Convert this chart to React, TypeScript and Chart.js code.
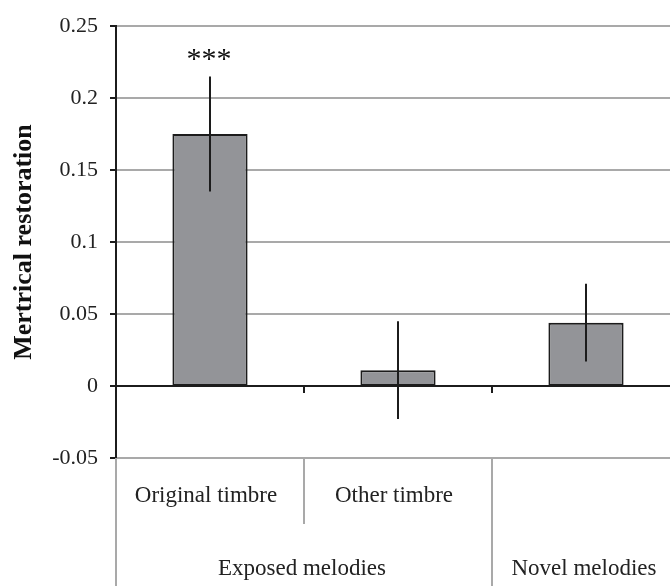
import React, { useEffect, useRef } from 'react';
import { Chart, registerables } from 'chart.js';

Chart.register(...registerables);

// ---- data ----
const categories = ['Original timbre', 'Other timbre', 'Novel melodies'];
const subLabels = ['Original timbre', 'Other timbre', ''];
const groupLabels = ['Exposed melodies', 'Novel melodies'];
const groupSpans = [2, 1];
const values = [0.175, 0.011, 0.044];
const errors = [0.040, 0.034, 0.027];
const significance = ['***', '', ''];
const yMin = -0.05;
const yMax = 0.25;
const yStep = 0.05;
const yTitle = 'Mertrical restoration';

const SERIF = '"Liberation Serif", "Times New Roman", serif';
const GRID_GRAY = '#a9a9a9';
const DARK = '#1c1c1c';

const overlay = {
  id: 'overlay',
  afterDatasetsDraw(chart: any) {
    const ctx = chart.ctx as CanvasRenderingContext2D;
    const xs = chart.scales.x;
    const ys = chart.scales.y;
    const area = chart.chartArea;
    const n = categories.length;
    const catW = (area.right - area.left) / n;
    const y0 = ys.getPixelForValue(0);

    ctx.save();
    // error bars
    ctx.strokeStyle = DARK;
    ctx.lineWidth = 2;
    values.forEach((v, i) => {
      const cx = Math.round(xs.getPixelForValue(i));
      ctx.beginPath();
      ctx.moveTo(cx, ys.getPixelForValue(v + errors[i]));
      ctx.lineTo(cx, ys.getPixelForValue(v - errors[i]));
      ctx.stroke();
    });

    // tick marks at category boundaries on the zero line
    for (let i = 1; i < n; i++) {
      const bx = Math.round(xs.getPixelForValue(i) - catW / 2);
      ctx.beginPath();
      ctx.moveTo(bx, y0);
      ctx.lineTo(bx, y0 + 7);
      ctx.stroke();
    }

    // significance markers
    ctx.fillStyle = '#111';
    ctx.font = `30px ${SERIF}`;
    ctx.textAlign = 'center';
    ctx.textBaseline = 'alphabetic';
    significance.forEach((s, i) => {
      if (!s) return;
      const cx = xs.getPixelForValue(i) - 1;
      const top = ys.getPixelForValue(values[i] + errors[i]);
      ctx.fillText(s, cx, top - 8);
    });

    // category table below the plot
    const bottom = area.bottom;
    ctx.strokeStyle = GRID_GRAY;
    ctx.lineWidth = 2;
    // left border
    ctx.beginPath();
    ctx.moveTo(area.left, bottom);
    ctx.lineTo(area.left, chart.height);
    ctx.stroke();
    // sub-category separators (short) and group separators (full)
    let idx = 0;
    groupSpans.forEach((span) => {
      const start = idx;
      const end = idx + span;
      for (let k = start + 1; k < end; k++) {
        const bx = Math.round(xs.getPixelForValue(k) - catW / 2);
        ctx.beginPath();
        ctx.moveTo(bx, bottom);
        ctx.lineTo(bx, bottom + 66);
        ctx.stroke();
      }
      if (end < n) {
        const bx = Math.round(xs.getPixelForValue(end) - catW / 2);
        ctx.beginPath();
        ctx.moveTo(bx, bottom);
        ctx.lineTo(bx, chart.height);
        ctx.stroke();
      }
      idx = end;
    });

    ctx.fillStyle = '#222';
    ctx.font = `23px ${SERIF}`;
    ctx.textAlign = 'center';
    subLabels.forEach((lab, i) => {
      if (!lab) return;
      ctx.fillText(lab, xs.getPixelForValue(i) - 4, bottom + 44);
    });
    idx = 0;
    groupLabels.forEach((lab, g) => {
      const span = groupSpans[g];
      const left = xs.getPixelForValue(idx) - catW / 2;
      const right = xs.getPixelForValue(idx + span - 1) + catW / 2;
      ctx.fillText(lab, (left + right) / 2 - 2, bottom + 117);
      idx += span;
    });
    ctx.restore();
  },
};

export default function App() {
  const ref = useRef<HTMLCanvasElement | null>(null);

  useEffect(() => {
    if (!ref.current) return;
    const chart = new Chart(ref.current, {
      type: 'bar',
      data: {
        labels: categories,
        datasets: [
          {
            data: values,
            backgroundColor: '#939498',
            borderColor: DARK,
            borderWidth: 2,
            borderSkipped: false,
            categoryPercentage: 1,
            barPercentage: 0.4,
          } as any,
        ],
      },
      options: {
        responsive: false,
        animation: false,
        devicePixelRatio: 1,
        layout: { padding: { top: 26, right: 10, bottom: 128, left: 0 } },
        plugins: {
          legend: { display: false },
          tooltip: { enabled: false },
        },
        scales: {
          x: { display: false },
          y: {
            min: yMin,
            max: yMax,
            afterFit: (s: any) => {
              s.width = 116;
            },
            ticks: {
              stepSize: yStep,
              padding: 12,
              color: '#222',
              font: { family: SERIF, size: 22 },
              callback: (v: any) => String(Number(Number(v).toFixed(2))),
            },
            grid: {
              color: (c: any) =>
                c.tick && Math.abs(c.tick.value) < 1e-9 ? DARK : GRID_GRAY,
              lineWidth: 2,
              tickLength: 6,
              tickColor: DARK,
              tickWidth: 2,
            },
            border: { color: DARK, width: 2 },
            title: {
              display: true,
              text: yTitle,
              color: '#111',
              font: { family: SERIF, size: 26, weight: 'bold' },
              padding: { top: 9, bottom: 0 },
            },
          },
        },
      },
      plugins: [overlay],
    } as any);
    return () => chart.destroy();
  }, []);

  return (
    <div
      style={{
        position: 'absolute',
        left: 0,
        top: 0,
        width: 670,
        height: 586,
        overflow: 'hidden',
        background: '#fff',
      }}
    >
      <canvas ref={ref} width={690} height={586} style={{ width: 690, height: 586 }} />
    </div>
  );
}
